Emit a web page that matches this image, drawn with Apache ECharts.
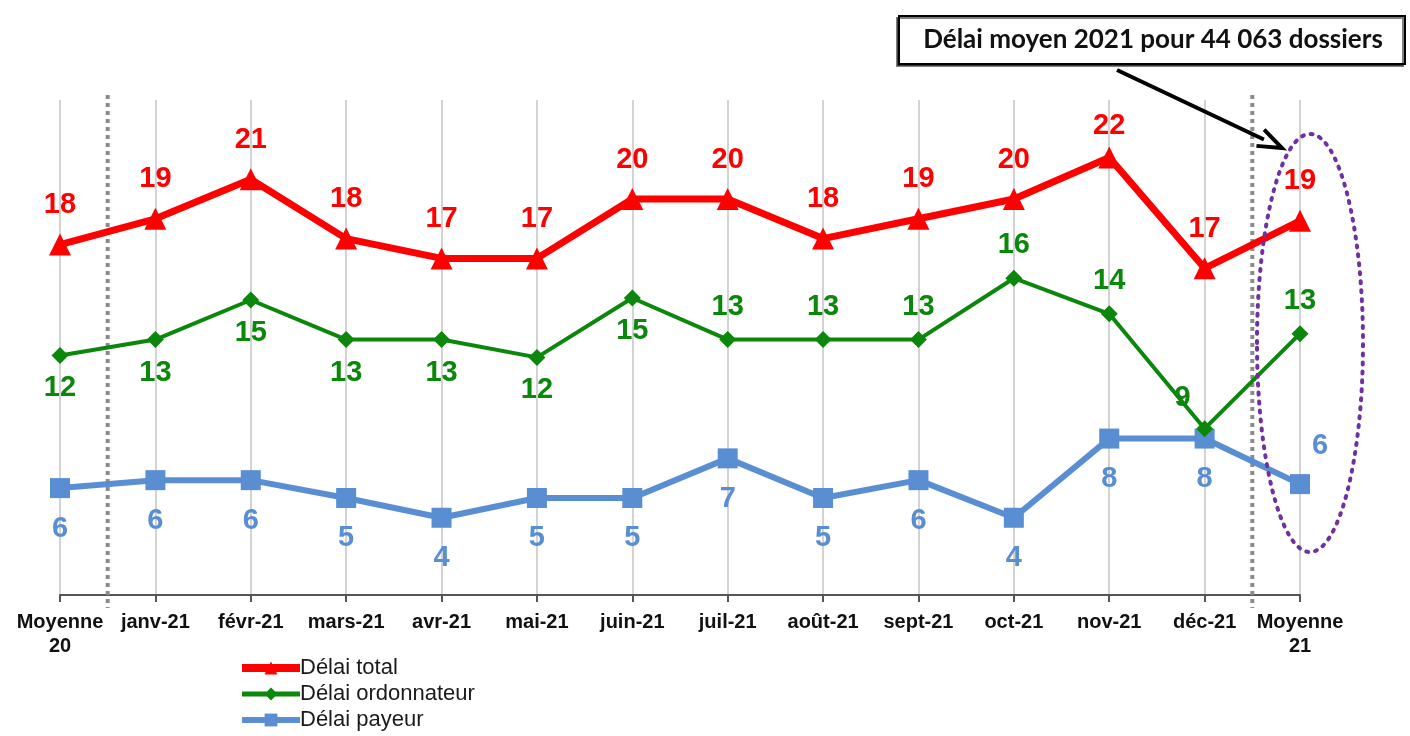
<!DOCTYPE html>
<html>
<head>
<meta charset="utf-8">
<script src="https://cdn.jsdelivr.net/npm/echarts@6/dist/echarts.min.js"></script>
<style>
  html, body { margin: 0; padding: 0; background: #fff; }
  #main { width: 1410px; height: 736px; }
</style>
</head>
<body>
<div id="main"></div>
<script>
// catégories (axe X)
var categories = ['Moyenne\n20', 'janv-21', 'févr-21', 'mars-21', 'avr-21', 'mai-21', 'juin-21',
  'juil-21', 'août-21', 'sept-21', 'oct-21', 'nov-21', 'déc-21', 'Moyenne\n21'];

// valeurs (jours)
var delaiTotal = [17.7, 19.0, 21.0, 18.0, 17.0, 17.0, 20.0, 20.0, 18.0, 19.0, 20.0, 22.1, 16.5, 18.9];
var delaiOrdo = [12.1, 12.9, 14.9, 12.9, 12.9, 12.0, 15.0, 12.9, 12.9, 12.9, 16.0, 14.2, 8.4, 13.2];
var delaiPayeur = [5.4, 5.8, 5.8, 4.9, 3.9, 4.9, 4.9, 6.9, 4.9, 5.8, 3.9, 7.9, 7.9, 5.6];

// étiquettes affichées
var labelsTotal = [18, 19, 21, 18, 17, 17, 20, 20, 18, 19, 20, 22, 17, 19];
var labelsOrdo = [12, 13, 15, 13, 13, 12, 15, 13, 13, 13, 16, 14, 9, 13];
var labelsPayeur = [6, 6, 6, 5, 4, 5, 5, 7, 5, 6, 4, 8, 8, 6];

var RED = '#FF0000', GREEN = '#0B870B', BLUE = '#5A8ED3';
var FONT = '"Liberation Sans", Arial, sans-serif';

// construit les points avec position d'étiquette
function buildData(values, labels, posFn) {
  return values.map(function (v, i) {
    var p = posFn(i);
    return {
      value: v,
      label: {
        formatter: String(labels[i]),
        position: p.position,
        distance: p.distance,
        offset: p.offset || [0, 0]
      }
    };
  });
}

var dataTotal = buildData(delaiTotal, labelsTotal, function (i) {
  if (i === 11) return { position: 'top', distance: 6 };
  return { position: 'top', distance: 14 };
});
var dataOrdo = buildData(delaiOrdo, labelsOrdo, function (i) {
  if (i === 12) return { position: 'top', distance: 8, offset: [-22, 0] };
  if (i >= 7) return { position: 'top', distance: 10 };
  return { position: 'bottom', distance: 10 };
});
var dataPayeur = buildData(delaiPayeur, labelsPayeur, function (i) {
  if (i === 13) return { position: 'top', distance: 14, offset: [20, 0] };
  return { position: 'bottom', distance: 16 };
});

var labelStyle = function (color) {
  return { show: true, color: color, fontSize: 29, fontWeight: 'bold', fontFamily: FONT };
};

var myChart = echarts.init(document.getElementById('main'));
var option = {
  animation: false,
  backgroundColor: '#fff',
  grid: { left: 60, right: 110, top: 100, bottom: 141 },
  legend: {
    orient: 'vertical',
    left: 238,
    top: 657,
    padding: 0,
    itemWidth: 58,
    itemHeight: 16,
    itemGap: 4,
    textStyle: { fontSize: 22, color: '#1a1a1a', fontFamily: FONT, padding: [0, 0, 0, -5] },
    data: [
      { name: 'Délai total', lineStyle: { width: 8 } },
      { name: 'Délai ordonnateur', lineStyle: { width: 5 } },
      { name: 'Délai payeur', lineStyle: { width: 6 } }
    ]
  },
  xAxis: {
    type: 'category',
    data: categories,
    boundaryGap: false,
    axisLine: { lineStyle: { color: '#555', width: 2 } },
    axisTick: { show: true, length: 7, lineStyle: { color: '#555', width: 2 } },
    axisLabel: {
      color: '#111', fontSize: 20, fontWeight: 'bold', fontFamily: FONT,
      margin: 15, interval: 0, lineHeight: 24
    },
    splitLine: { show: true, lineStyle: { color: '#d3d3d3', width: 2 } }
  },
  yAxis: {
    type: 'value',
    min: 0,
    max: 25,
    show: false,
    splitLine: { show: false }
  },
  series: [
    {
      name: 'Délai total', type: 'line', data: dataTotal,
      symbol: 'triangle', symbolSize: 22,
      lineStyle: { color: RED, width: 7 },
      itemStyle: { color: RED },
      label: labelStyle(RED), z: 4
    },
    {
      name: 'Délai ordonnateur', type: 'line', data: dataOrdo,
      symbol: 'diamond', symbolSize: 17,
      lineStyle: { color: GREEN, width: 4 },
      itemStyle: { color: GREEN },
      label: labelStyle(GREEN), z: 3
    },
    {
      name: 'Délai payeur', type: 'line', data: dataPayeur,
      symbol: 'rect', symbolSize: 20,
      lineStyle: { color: BLUE, width: 6 },
      itemStyle: { color: BLUE },
      label: labelStyle(BLUE), z: 2
    }
  ]
};
myChart.setOption(option);

// annotations : séparateurs pointillés, encadré, flèche, ellipse
var p0 = myChart.convertToPixel({ gridIndex: 0 }, [0, 0]);
var p1 = myChart.convertToPixel({ gridIndex: 0 }, [1, 0]);
var p12 = myChart.convertToPixel({ gridIndex: 0 }, [12, 0]);
var p13 = myChart.convertToPixel({ gridIndex: 0 }, [13, 0]);
var sepA = (p0[0] + p1[0]) / 2;
var sepB = (p12[0] + p13[0]) / 2;
var topY = 95, botY = 608;

// flèche
var ax1 = 1117, ay1 = 70, ax2 = 1282, ay2 = 148;
var ang = Math.atan2(ay2 - ay1, ax2 - ax1);
var hl = 20, hw = 9;
var bx = ax2 - hl * Math.cos(ang), by = ay2 - hl * Math.sin(ang);

myChart.setOption({
  graphic: [
    {
      type: 'line', silent: true, z: 1,
      shape: { x1: sepA, y1: topY, x2: sepA, y2: botY },
      style: { stroke: '#8c8c8c', lineWidth: 4, lineDash: [4, 4] }
    },
    {
      type: 'line', silent: true, z: 1,
      shape: { x1: sepB, y1: topY, x2: sepB, y2: botY },
      style: { stroke: '#8c8c8c', lineWidth: 4, lineDash: [4, 4] }
    },
    {
      type: 'rect', silent: true, z: 10,
      shape: { x: 899, y: 16, width: 506, height: 48 },
      style: { fill: '#fff', stroke: '#000', lineWidth: 2,
        shadowColor: 'rgba(0,0,0,0.5)', shadowOffsetX: -2, shadowOffsetY: 2 }
    },
    {
      type: 'text', silent: true, z: 11,
      x: 1153, y: 40,
      style: {
        text: 'Délai moyen 2021 pour 44 063 dossiers',
        fill: '#111', font: 'bold 26px Lato, "Open Sans", sans-serif',
        align: 'center', verticalAlign: 'middle'
      }
    },
    {
      type: 'line', silent: true, z: 10,
      shape: { x1: ax1, y1: ay1, x2: bx, y2: by },
      style: { stroke: '#000', lineWidth: 4 }
    },
    {
      type: 'polyline', silent: true, z: 10,
      shape: { points: [
        [bx - hw * Math.sin(ang) - 4 * Math.cos(ang), by + hw * Math.cos(ang) - 4 * Math.sin(ang)],
        [ax2, ay2],
        [bx + hw * Math.sin(ang) - 4 * Math.cos(ang), by - hw * Math.cos(ang) - 4 * Math.sin(ang)]
      ] },
      style: { stroke: '#000', lineWidth: 4, fill: null }
    },
    {
      type: 'ellipse', silent: true, z: 10,
      shape: { cx: p13[0] + 10, cy: 343, rx: 53, ry: 209 },
      style: { fill: null, stroke: '#7030A0', lineWidth: 4, lineDash: [2, 7], lineCap: 'round' }
    }
  ]
});
</script>
</body>
</html>
